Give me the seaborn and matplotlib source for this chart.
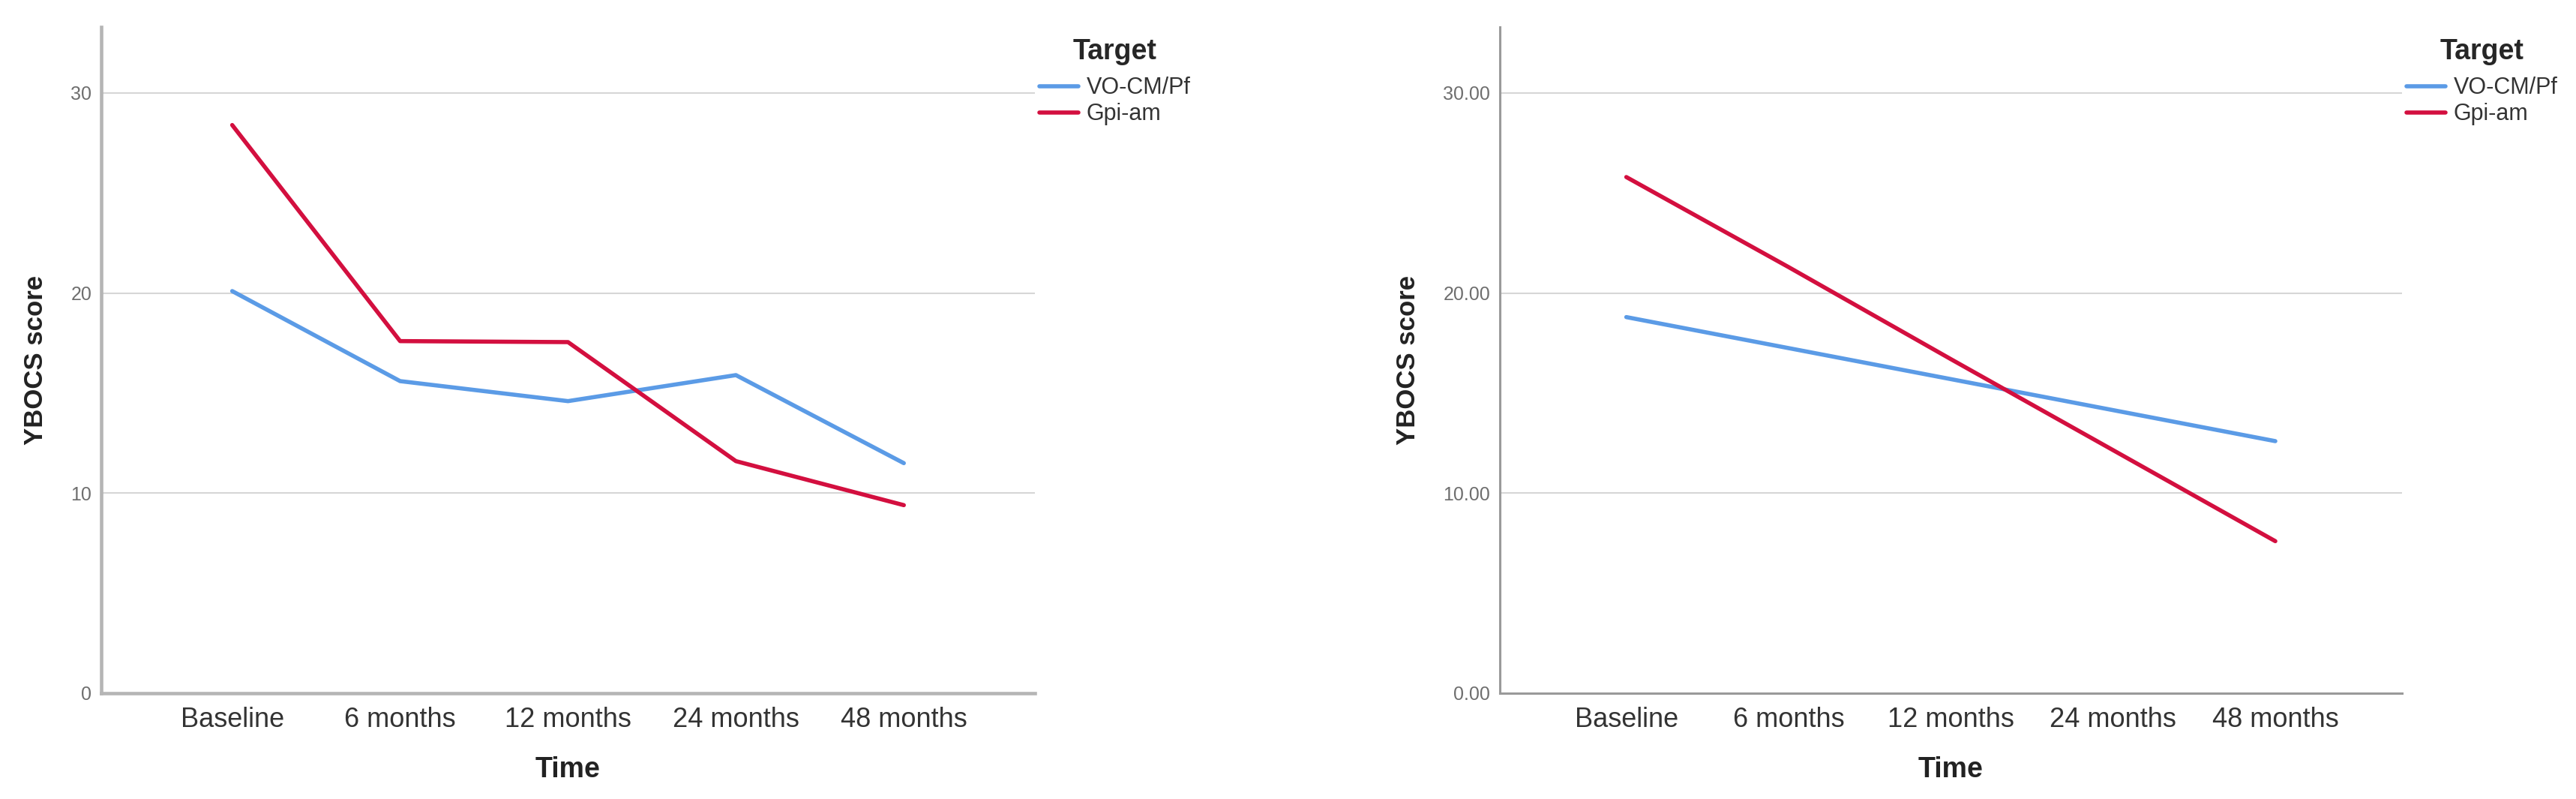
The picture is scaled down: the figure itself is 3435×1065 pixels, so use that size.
import matplotlib
matplotlib.use("Agg")
import matplotlib.pyplot as plt
import seaborn as sns
import pandas as pd
from matplotlib.ticker import FormatStrFormatter

# ===========================
# Data
# ===========================
time_points = ["Baseline", "6 months", "12 months", "24 months", "48 months"]
targets = ["VO-CM/Pf", "Gpi-am"]

# left panel: observed means
obs_vo = [20.1, 15.6, 14.6, 15.9, 11.5]
obs_gpi = [28.4, 17.6, 17.55, 11.6, 9.4]

# right panel: fitted trend
fit_vo = [18.8, 17.25, 15.7, 14.15, 12.6]
fit_gpi = [25.8, 21.3, 16.7, 12.15, 7.6]

y_ticks = [0, 10, 20, 30]

colors = {"VO-CM/Pf": "#5b9be6", "Gpi-am": "#d30f3f"}


def long_df(vo, gpi):
    rows = []
    for t, v in zip(time_points, vo):
        rows.append({"Time": t, "YBOCS score": v, "Target": targets[0]})
    for t, v in zip(time_points, gpi):
        rows.append({"Time": t, "YBOCS score": v, "Target": targets[1]})
    return pd.DataFrame(rows)


sns.set_style("white")
plt.rcParams["font.family"] = ["Liberation Sans", "DejaVu Sans"]

fig = plt.figure(figsize=(34.35, 10.65), dpi=100)
ax1 = fig.add_axes([0.0393, 0.1324, 0.3624, 0.8338])
ax2 = fig.add_axes([0.5822, 0.1324, 0.3502, 0.8338])


def style_axis(ax, df, spine_w, spine_c, fmt):
    sns.lineplot(data=df, x="Time", y="YBOCS score", hue="Target",
                 palette=colors, linewidth=4.0, sort=False, ax=ax)
    ax.set_xlim(-0.78, 4.78)
    ax.set_ylim(0, 33.3)
    ax.set_yticks(y_ticks)
    if fmt:
        ax.yaxis.set_major_formatter(FormatStrFormatter(fmt))
    for yt in y_ticks[1:]:
        ax.axhline(yt, color="#d6d6d6", lw=1.5, zorder=0)
    for s in ["top", "right"]:
        ax.spines[s].set_visible(False)
    for s in ["left", "bottom"]:
        ax.spines[s].set_color(spine_c)
        ax.spines[s].set_linewidth(spine_w)
    ax.tick_params(axis="both", length=0)
    ax.tick_params(axis="y", labelsize=18, labelcolor="#6e6e6e", pad=9)
    ax.tick_params(axis="x", labelsize=26, labelcolor="#333333", pad=13)
    ax.set_xlabel("Time", fontsize=27, fontweight="bold", color="#222222", labelpad=22)
    ax.set_ylabel("YBOCS score", fontsize=25, fontweight="bold", color="#222222", labelpad=22)
    handles, labels = ax.get_legend_handles_labels()
    leg = ax.legend(handles, labels, title="Target", loc="upper left",
                    bbox_to_anchor=(1.0, 0.99), borderaxespad=0, borderpad=0.2,
                    frameon=False, fontsize=22, handlelength=1.7,
                    handletextpad=0.35, labelspacing=0.17)
    leg.get_title().set_fontweight("bold")
    leg.get_title().set_fontsize(27)
    leg._legend_box.sep = 11
    for line in leg.get_lines():
        line.set_linewidth(4)
    for txt in leg.get_texts():
        txt.set_color("#333333")


style_axis(ax1, long_df(obs_vo, obs_gpi), 3.3, "#b5b5b5", None)
style_axis(ax2, long_df(fit_vo, fit_gpi), 2.2, "#9a9a9a", "%.2f")

plt.savefig("out.png", dpi=100)
plt.close()
